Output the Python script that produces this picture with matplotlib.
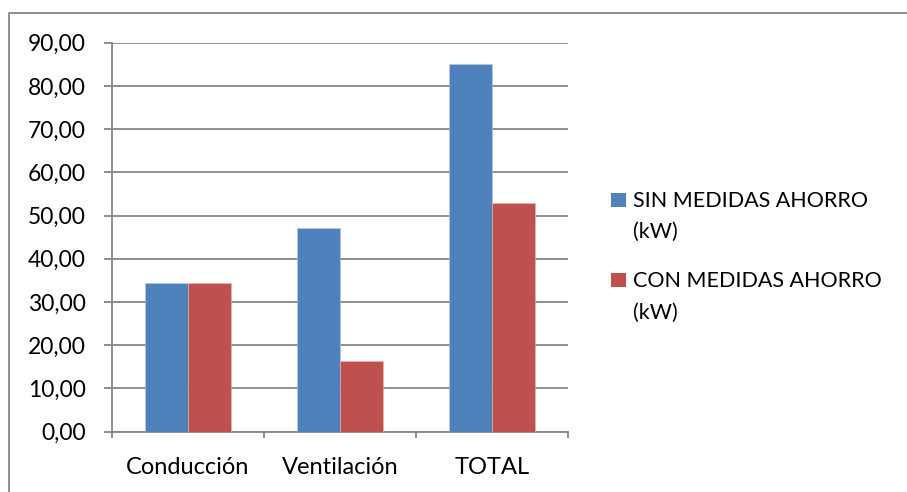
import numpy as np
import matplotlib
matplotlib.use("Agg")
from matplotlib import pyplot as plt
from matplotlib.patches import Rectangle
from matplotlib.lines import Line2D
from matplotlib.ticker import FuncFormatter, FixedLocator

categories = ["Conducción", "Ventilación", "TOTAL"]
sin_medidas = [34.5, 47.2, 85.1]
con_medidas = [34.5, 16.4, 52.9]
series_names = ["SIN MEDIDAS AHORRO\n(kW)", "CON MEDIDAS AHORRO\n(kW)"]
colors = ["#4F81BD", "#C0504D"]

W, H = 907, 492
grey = "#868686"
plt.rcParams["font.family"] = ["Lato", "DejaVu Sans"]
fs = 16.5


def fx(x):
    return x / W


def fy(y):
    return 1 - y / H


fig = plt.figure(figsize=(W / 100, H / 100), dpi=100)
ax = fig.add_axes([fx(111.7), fy(431.7), fx(568.3) - fx(111.7), fy(42.7) - fy(431.7)])

x = np.arange(len(categories))
width = 0.284
ax.bar(x - width / 2, sin_medidas, width, color=colors[0], edgecolor="#B9CDE5", linewidth=0.4, zorder=3)
ax.bar(x + width / 2, con_medidas, width, color=colors[1], edgecolor="#E6B9B8", linewidth=0.4, zorder=3)

ax.set_xlim(-0.5, len(categories) - 0.5)
ax.set_ylim(0, 90)
ax.set_yticks(np.arange(0, 91, 10))
ax.yaxis.set_major_formatter(FuncFormatter(lambda v, p: f"{v:.2f}".replace(".", ",")))
ax.set_xticks(x)
ax.set_xticklabels(categories)
ax.xaxis.set_minor_locator(FixedLocator(np.arange(-0.5, len(categories), 1)))

ax.grid(axis="y", color=grey, linewidth=1.3, zorder=0)
for s in ["top", "right"]:
    ax.spines[s].set_visible(False)
for s in ["left", "bottom"]:
    ax.spines[s].set_color(grey)
    ax.spines[s].set_linewidth(1.3)
ax.tick_params(axis="y", direction="out", length=5.5, width=1.3, color=grey, labelsize=fs, pad=13)
ax.tick_params(axis="x", which="major", length=0, labelsize=17, pad=18)
ax.tick_params(axis="x", which="minor", direction="out", length=4.5, width=1.3, color=grey)

# legend drawn by hand, one text per wrapped line
for i, (name, c) in enumerate(zip(series_names, colors)):
    top = [192.7, 273.3][i]
    fig.patches.append(Rectangle((fx(611), fy(top + 14)), fx(15), fy(top) - fy(top + 14),
                                 transform=fig.transFigure, facecolor=c, edgecolor="none"))
    for j, line in enumerate(name.split("\n")):
        fig.text(fx(633), fy(top + 14 + 31.5 * j), line, fontsize=15.5,
                 va="baseline", ha="left")

# chart frame
fig.add_artist(Line2D([fx(9), fx(9), fx(907)], [fy(492), fy(13), fy(13)],
                      transform=fig.transFigure, color=grey, linewidth=1.3))

fig.savefig("out.png", dpi=100)
